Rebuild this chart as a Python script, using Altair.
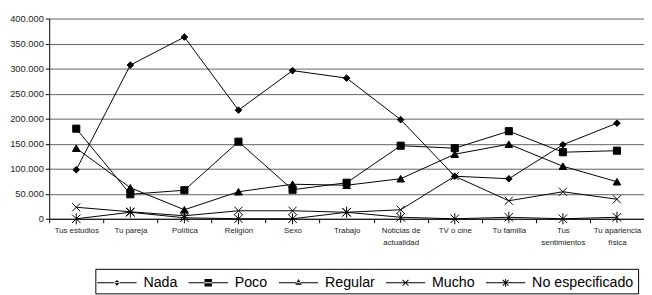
import altair as alt
import pandas as pd

categorias = ["Tus estudios", "Tu pareja", "Política", "Religión", "Sexo", "Trabajo",
              "Noticias de actualidad", "TV o cine", "Tu familia", "Tus sentimientos",
              "Tu apariencia física"]
series = ["Nada", "Poco", "Regular", "Mucho", "No especificado"]

nada = [98000, 307000, 363000, 217000, 296000, 281000, 198000, 85000, 80000, 148000, 191000]
poco = [180000, 49000, 57000, 154000, 58000, 72000, 146000, 141000, 175000, 133000, 136000]
regular = [141000, 62000, 18000, 54000, 69000, 67000, 80000, 129000, 149000, 105000, 74000]
mucho = [23000, 14000, 6000, 16000, 16000, 13000, 18000, 85000, 36000, 54000, 39000]
no_especificado = [0, 13000, 2000, 0, 0, 13000, 3000, 0, 3000, 0, 3000]

y_ticks = [0, 50000, 100000, 150000, 200000, 250000, 300000, 350000, 400000]

# multi-line tick labels
label_lines = {
    "Noticias de actualidad": ["Noticias de", "actualidad"],
    "Tus sentimientos": ["Tus", "sentimientos"],
    "Tu apariencia física": ["Tu apariencia", "física"],
}

valores = [nada, poco, regular, mucho, no_especificado]
rows = []
for s, vals in zip(series, valores):
    for c, v in zip(categorias, vals):
        rows.append({"categoria": c, "serie": s, "valor": v})
df = pd.DataFrame(rows)

# marker shapes drawn on the lines
plot_shapes = ["diamond", "square", "triangle-up",
               "M-1,-1L1,1M-1,1L1,-1",
               "M-1,-1L1,1M-1,1L1,-1M0,-1.3V1.3"]
plot_sizes = [45, 75, 60, 49, 49]


# legend symbols: line segment with marker, all as filled outlines
def bar(x0, y0, x1, y1, w=0.05):
    dx, dy = x1 - x0, y1 - y0
    n = (dx * dx + dy * dy) ** 0.5
    px, py = -dy / n * w, dx / n * w
    pts = [(x0 + px, y0 + py), (x1 + px, y1 + py), (x1 - px, y1 - py), (x0 - px, y0 - py)]
    return "M" + "L".join(f"{a:.3f},{b:.3f}" for a, b in pts) + "Z"


line_seg = bar(-2, 0, 2, 0)
cross_x = bar(-0.3, -0.3, 0.3, 0.3) + bar(-0.3, 0.3, 0.3, -0.3)
legend_shapes = [
    line_seg + "M-0.3,0L0,-0.3L0.3,0L0,0.3Z",
    line_seg + "M-0.38,-0.38H0.38V0.38H-0.38Z",
    line_seg + "M-0.33,0.2L0,-0.38L0.33,0.2Z",
    line_seg + cross_x,
    line_seg + cross_x + bar(0, -0.4, 0, 0.4),
]

expr = "datum.label"
for k, v in label_lines.items():
    expr = f"datum.label == '{k}' ? ['{v[0]}', '{v[1]}'] : ({expr})"

x = alt.X("categoria:N", sort=categorias, title=None, bandPosition=0.5,
          scale=alt.Scale(type="band", paddingInner=0, paddingOuter=0),
          axis=alt.Axis(labelExpr=expr, labelAngle=0, labelFontSize=8,
                        labelLineHeight=12, labelPadding=4, labelColor="#222",
                        labelFont="Liberation Sans", tickBand="extent",
                        tickSize=4, tickColor="black", domainColor="black",
                        labelOverlap=False, labelLimit=0, grid=False))
y = alt.Y("valor:Q", title=None,
          scale=alt.Scale(domain=[0, 400000], nice=False),
          axis=alt.Axis(values=y_ticks,
                        labelExpr="replace(format(datum.value, ','), ',', '.')",
                        labelFontSize=9.5, labelFont="Liberation Sans",
                        labelColor="#222", grid=True, gridColor="#606060",
                        tickSize=4, tickColor="black", domainColor="black"))

base = alt.Chart(df).encode(x=x, y=y)

lines = base.mark_line(color="black", strokeWidth=1).encode(detail="serie:N")

points = base.mark_point(fill="black", stroke="black", strokeWidth=1, opacity=1).encode(
    shape=alt.Shape("serie:N", scale=alt.Scale(domain=series, range=plot_shapes), legend=None),
    size=alt.Size("serie:N", scale=alt.Scale(domain=series, range=plot_sizes), legend=None),
)

legend_layer = base.mark_point(fill="black", strokeWidth=0, opacity=0).encode(
    shape=alt.Shape("serie:N", scale=alt.Scale(domain=series, range=legend_shapes),
                    legend=alt.Legend(title=None, orient="none", legendX=47, legendY=255,
                                      direction="horizontal", columns=5,
                                      strokeColor="black", fillColor="white", padding=4,
                                      symbolSize=400, symbolStrokeWidth=0,
                                      symbolOpacity=1, symbolFillColor="black",
                                      symbolOffset=8, labelOffset=17,
                                      columnPadding=11, labelFont="Liberation Sans",
                                      labelFontSize=14.5, labelColor="black")),
)

chart = alt.layer(lines, points, legend_layer).resolve_scale(
    shape="independent", size="independent"
).properties(
    width=606, height=204, autosize="none",
    padding={"left": 42, "top": 8, "right": 0, "bottom": 80},
    background="white",
).configure_view(strokeWidth=0)

chart.save("out.html", embed_options={"renderer": "svg", "actions": False})
